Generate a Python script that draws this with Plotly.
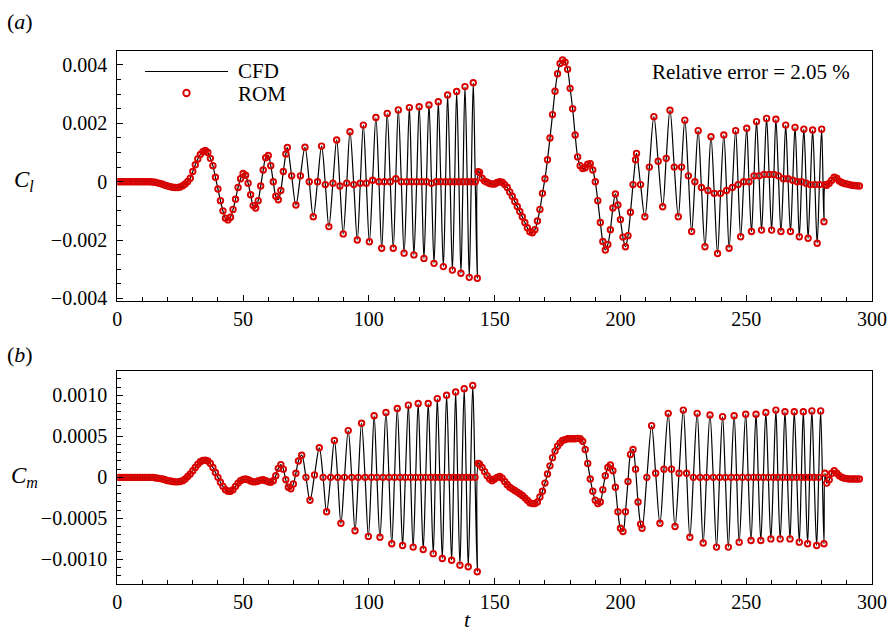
import plotly.graph_objects as go

# ---------------- data ----------------
# (a) lift coefficient C_l, values in units of 1e-3
t_cl_1 = [0, 1, 2, 3, 4, 5, 6, 7, 8, 9, 10, 11, 12, 13, 14, 15, 16, 17, 18, 19,
          20, 21, 22, 23, 24, 25, 26, 27, 28, 29, 30, 31, 32, 33, 34, 35, 36, 37, 38, 39,
          40, 41, 42, 43, 44, 45, 46, 47, 48, 49, 50, 51, 52, 53, 54, 55, 56, 57, 58, 59,
          60, 61, 62, 63, 64, 65, 66, 67]
cl_1 = [0, 0, 0, 0, 0, 0, 0, 0, 0, 0, 0, 0, 0, 0,
        -0.01, -0.02, -0.04, -0.06, -0.09, -0.12, -0.15, -0.17, -0.19, -0.2,
        -0.2, -0.18, -0.14, -0.08, 0.01, 0.12, 0.35, 0.58, 0.78, 0.93,
        1.03, 1.07, 1.0, 0.8, 0.55, 0.15, -0.25, -0.65, -1.0, -1.25,
        -1.31, -1.22, -0.95, -0.6, -0.2, 0.1, 0.28, 0.22, -0.05, -0.45,
        -0.82, -0.9, -0.65, -0.15, 0.4, 0.82, 0.9, 0.55, 0.0, -0.5,
        -0.62, -0.3, 0.35, 0.95]
t_cl_2 = [67.6, 69.3, 71.0, 72.8, 74.6, 76.3, 77.9, 79.6, 81.2, 82.7, 84.1, 85.7, 87.2, 88.5,
          89.8, 91.2, 92.5, 94.0, 95.4, 96.6, 97.8, 99.0, 100.2, 101.5, 102.8, 104.0, 105.1,
          106.2, 107.3, 108.5, 109.7, 110.7, 111.7, 112.9, 114.0, 115.1, 116.1, 117.0, 117.9,
          119.0, 120.0, 121.0, 121.9, 122.9, 123.9, 124.9, 125.9, 126.8, 127.6, 128.6, 129.6,
          130.5, 131.3, 132.3, 133.2, 134.1, 134.9, 135.8, 136.6, 137.4, 138.2, 139.1, 139.9,
          140.7, 141.5, 142.3, 143.1]
cl_2 = [1.17, 0.2, -0.8, 0.2, 1.18, 0.0, -1.2, 0.0, 1.22, -0.1, -1.54, -0.05, 1.43, -0.15,
        -1.79, -0.05, 1.71, -0.1, -2.0, -0.05, 1.94, -0.05, -2.06, 0.05, 2.2, 0.0, -2.28,
        0.0, 2.34, 0.0, -2.28, 0.1, 2.46, 0.0, -2.45, 0.0, 2.54, 0.0, -2.51,
        0.0, 2.57, 0.0, -2.63, 0.0, 2.63, -0.05, -2.8, 0.0, 2.74, 0.0, -2.91,
        0.0, 2.97, 0.0, -3.03, 0.0, 3.09, 0.0, -3.14, 0.0, 3.26, 0.0, -3.28,
        0.0, 3.39, 0.0, -3.31]
t_cl_3 = [143.5, 144, 145, 146, 147, 148, 149, 150, 151, 152, 153, 154, 155, 156, 157, 158,
          159, 160, 161, 162, 163, 164, 165, 166, 167, 168, 169, 170, 171, 172, 173, 174,
          175, 176, 177, 178, 179, 180, 181, 182, 183, 184, 185, 186, 187, 188, 189, 190,
          191, 192, 193, 194, 195, 196, 197, 198, 199, 200, 201, 202, 203, 204, 205, 206]
cl_3 = [0.34, 0.32, 0.12, 0.02, -0.02, -0.06, -0.08, -0.08, -0.03, 0.0, -0.02, -0.1, -0.2,
        -0.35, -0.5, -0.68, -0.85, -1.02, -1.2, -1.4, -1.58, -1.72, -1.75, -1.65, -1.35,
        -0.95, -0.4, 0.1, 0.75, 1.5, 2.3, 3.1, 3.7, 4.05, 4.17, 4.1, 3.85, 3.2, 2.5, 1.6,
        0.85, 0.55, 0.45, 0.48, 0.6, 0.62, 0.4, 0.0, -0.65, -1.4, -2.05, -2.34, -2.15,
        -1.65, -0.9, -0.42, -0.8, -1.3, -1.9, -2.23, -1.85, -1.05, -0.1, 0.75]
t_cl_4 = [206.4, 208.0, 209.7, 211.5, 213.3, 215.0, 216.8, 218.2, 219.7, 221.4, 223.0, 224.3,
          225.6, 227.0, 228.3, 229.6, 230.9, 232.2, 233.6, 234.8, 236.0, 237.3, 238.6, 239.8,
          241.1, 242.2, 243.2, 244.5, 245.8, 246.8, 247.8, 249.0, 250.2, 251.1, 252.1, 253.1,
          254.1, 255.1, 256.1, 257.1, 258.1, 259.1, 260.1, 261.0, 261.8, 262.8, 263.8, 264.8,
          265.7, 266.6, 267.6, 268.5, 269.4, 270.3, 271.1, 272.0, 272.9, 273.8, 274.6, 275.5,
          276.4, 277.3, 278.2, 279.1, 280.0, 280.9]
cl_4 = [0.97, -0.1, -1.2, 0.5, 2.23, 0.7, -0.86, 0.8, 2.45, 0.5, -1.2, 0.5,
        2.11, 0.2, -1.71, 0.0, 1.75, -0.2, -2.23, -0.3, 1.54, -0.4, -2.46, -0.4,
        1.6, -0.3, -2.28, -0.2, 1.75, -0.1, -1.89, 0.0, 1.83, 0.0, -1.71, 0.2,
        2.06, 0.2, -1.66, 0.25, 2.17, 0.25, -1.66, 0.25, 2.14, 0.2, -1.71, 0.1,
        1.94, 0.1, -1.71, 0.05, 1.86, 0.0, -1.89, 0.0, 1.8, -0.05, -1.94, -0.1,
        1.77, -0.1, -2.11, -0.1, 1.8, -1.37]
t_cl_5 = [281.4, 282, 283, 284, 285, 286, 287, 288, 289, 290, 291, 292, 293, 294, 295]
cl_5 = [-0.1, -0.12, -0.05, 0.05, 0.15, 0.12, 0.02, -0.03, -0.06, -0.08, -0.1, -0.12,
        -0.13, -0.14, -0.15]

# (b) moment coefficient C_m, values in units of 1e-3
t_cm_1 = list(range(0, 73))
cm_1 = [0, 0, 0, 0, 0, 0, 0, 0, 0, 0, 0, 0, 0, 0, 0,
        -0.005, -0.01, -0.015, -0.02, -0.03, -0.04, -0.045, -0.05, -0.055, -0.055,
        -0.05, -0.04, -0.02, 0.01, 0.04, 0.08, 0.12, 0.16, 0.19, 0.205,
        0.21, 0.2, 0.17, 0.12, 0.06, 0.0, -0.06, -0.11, -0.15, -0.17,
        -0.17, -0.15, -0.11, -0.07, -0.04, -0.025, -0.02, -0.03, -0.045, -0.055,
        -0.055, -0.045, -0.035, -0.03, -0.04, -0.055, -0.06, -0.04, 0.02, 0.11,
        0.155, 0.1, -0.03, -0.12, -0.14, -0.08, 0.05, 0.2]
t_cm_2 = [73.3, 75.0, 76.6, 78.4, 80.3, 81.8, 83.2, 84.8, 86.3, 87.6, 88.9, 90.3, 91.8,
          93.2, 94.5, 95.8, 97.1, 98.5, 99.8, 101.0, 102.1, 103.2, 104.4, 105.6, 106.8,
          108.0, 109.1, 110.2, 111.3, 112.4, 113.4, 114.5, 115.7, 116.6, 117.6, 118.6,
          119.6, 120.6, 121.6, 122.6, 123.6, 124.6, 125.6, 126.4, 127.2, 128.2, 129.2,
          130.0, 130.9, 131.9, 132.9, 133.7, 134.5, 135.3, 136.2, 137.0, 137.9, 138.7,
          139.5, 140.4, 141.3, 142.2, 143.1]
cm_2 = [0.27, 0.0, -0.28, 0.03, 0.36, 0.0, -0.42, 0.0, 0.45, 0.0, -0.56, 0.0, 0.57,
        0.0, -0.65, 0.0, 0.66, 0.0, -0.72, 0.0, 0.75, 0.0, -0.73, 0.0, 0.79,
        0.0, -0.81, 0.0, 0.84, 0.0, -0.83, 0.0, 0.88, 0.0, -0.85, 0.0,
        0.9, 0.0, -0.88, 0.0, 0.9, 0.0, -0.93, 0.0, 0.96, 0.0, -0.99,
        0.0, 1.0, 0.0, -1.01, 0.0, 1.04, 0.0, -1.07, 0.0, 1.08, 0.0,
        -1.09, 0.0, 1.12, 0.0, -1.15]
t_cm_3 = [143.5] + list(range(144, 209))
cm_3 = [0.17, 0.16, 0.12, 0.07, 0.02, -0.02, -0.04, -0.02, 0.0, 0.01, -0.01,
        -0.05, -0.09, -0.12, -0.14, -0.16, -0.18, -0.2, -0.22, -0.25, -0.28,
        -0.31, -0.32, -0.32, -0.3, -0.24, -0.17, -0.07, 0.04, 0.14, 0.24,
        0.32, 0.38, 0.42, 0.45, 0.46, 0.47, 0.47, 0.47, 0.47, 0.475,
        0.47, 0.44, 0.34, 0.17, -0.02, -0.17, -0.28, -0.32, -0.3, -0.15,
        0.02, 0.12, 0.15, 0.08, -0.12, -0.42, -0.62, -0.66, -0.42, -0.05,
        0.28, 0.34, 0.1, -0.3, -0.57]
t_cm_4 = [208.6, 210.5, 212.4, 214.0, 215.7, 217.3, 219.0, 220.3, 221.7, 223.3, 225.0,
          226.3, 227.6, 229.0, 230.5, 231.7, 232.9, 234.2, 235.6, 236.9, 238.2, 239.4,
          240.6, 241.7, 242.9, 244.0, 245.2, 246.2, 247.2, 248.5, 249.8, 250.8, 251.9,
          252.9, 253.9, 254.8, 255.8, 256.8, 257.8, 258.8, 259.8, 260.8, 261.8, 262.6,
          263.5, 264.5, 265.4, 266.4, 267.4, 268.2, 269.1, 270.1, 271.1, 271.9, 272.7,
          273.5, 274.4, 275.2, 276.1, 277.0, 278.0, 278.8, 279.6, 280.9]
cm_4 = [-0.62, 0.0, 0.63, 0.05, -0.56, 0.1, 0.78, 0.1, -0.6, 0.05, 0.82,
        0.05, -0.73, 0.0, 0.78, 0.0, -0.8, 0.0, 0.76, 0.0, -0.85, 0.0,
        0.74, 0.0, -0.85, 0.0, 0.75, 0.0, -0.79, 0.0, 0.77, 0.0, -0.77,
        0.0, 0.77, 0.0, -0.77, 0.0, 0.79, 0.0, -0.75, 0.0, 0.82, 0.0,
        -0.75, 0.0, 0.8, 0.0, -0.75, 0.0, 0.8, 0.0, -0.79, 0.0, 0.8,
        0.0, -0.81, 0.0, 0.81, 0.0, -0.83, 0.0, 0.81, -0.81]
t_cm_5 = [281.3, 282, 283, 284, 285, 286, 287, 288, 289, 290, 291, 292, 293, 294, 295]
cm_5 = [0.05, -0.07, -0.03, 0.05, 0.08, 0.05, 0.02, 0.0, -0.01, -0.015, -0.02, -0.02,
        -0.02, -0.02, -0.02]

x_ticks = [0, 50, 100, 150, 200, 250, 300]
cl_ticks = [-0.004, -0.002, 0, 0.002, 0.004]
cl_ticklabels = ["\u22120.004", "\u22120.002", "0", "0.002", "0.004"]
cm_ticks = [-0.001, -0.0005, 0, 0.0005, 0.001]
cm_ticklabels = ["\u22120.0010", "\u22120.0005", "0", "0.0005", "0.0010"]
error_text = "Relative error = 2.05 %"

# ---------------- assemble ----------------
for a, b in [(t_cl_1, cl_1), (t_cl_2, cl_2), (t_cl_3, cl_3), (t_cl_4, cl_4), (t_cl_5, cl_5),
             (t_cm_1, cm_1), (t_cm_2, cm_2), (t_cm_3, cm_3), (t_cm_4, cm_4), (t_cm_5, cm_5)]:
    assert len(a) == len(b), (len(a), len(b), a[0])

t_cl = t_cl_1 + t_cl_2 + t_cl_3 + t_cl_4 + t_cl_5
cl = [v * 1e-3 for v in cl_1 + cl_2 + cl_3 + cl_4 + cl_5]
t_cm = t_cm_1 + t_cm_2 + t_cm_3 + t_cm_4 + t_cm_5
cm = [v * 1e-3 for v in cm_1 + cm_2 + cm_3 + cm_4 + cm_5]

W, H = 893, 632
RED = "#d90000"
FONT = "Liberation Serif"


def px(x):
    return x / W


def py(y):
    return 1 - y / H


fig = go.Figure()
for xa, ya, tt, vv in [("x", "y", t_cl, cl), ("x2", "y2", t_cm, cm)]:
    fig.add_trace(go.Scatter(x=tt, y=vv, mode="lines", xaxis=xa, yaxis=ya,
                             line=dict(color="black", width=1.2, shape="spline", smoothing=1.0),
                             showlegend=False, hoverinfo="skip"))
    fig.add_trace(go.Scatter(x=tt, y=vv, mode="markers", xaxis=xa, yaxis=ya,
                             marker=dict(symbol="circle-open", size=5.5, color=RED,
                                         line=dict(color=RED, width=1.9)),
                             showlegend=False, hoverinfo="skip"))

axis_common = dict(showline=True, mirror=True, linecolor="black", linewidth=1.3,
                   ticks="inside", ticklen=6, tickwidth=1.1, tickcolor="black",
                   showgrid=False, zeroline=False, automargin=False,
                   tickfont=dict(family=FONT, size=20, color="black"))

xdom = [px(117.3), px(872)]
xmin = dict(ticks="inside", ticklen=3.5, tickmode="linear", tick0=0, dtick=10,
            tickcolor="black")
fig.update_layout(
    width=W, height=H, margin=dict(l=0, r=0, t=0, b=0),
    paper_bgcolor="white", plot_bgcolor="white",
    font=dict(family=FONT, color="black", size=20),
    xaxis=dict(domain=xdom, anchor="y", range=[0, 300], tickmode="array", tickvals=x_ticks,
               ticklabeloverflow="allow", minor=xmin, **axis_common),
    yaxis=dict(domain=[py(301), py(50.7)], anchor="x", range=[-0.00409, 0.00449],
               tickmode="array", tickvals=cl_ticks, ticktext=cl_ticklabels,
               ticklabelstandoff=5, ticklabeloverflow="allow",
               minor=dict(ticks="inside", ticklen=3.5, tickmode="linear", tick0=0,
                          dtick=0.0005, tickcolor="black"),
               **axis_common),
    xaxis2=dict(domain=xdom, anchor="y2", range=[0, 300], tickmode="array", tickvals=x_ticks,
                ticklabeloverflow="allow", minor=xmin, **axis_common),
    yaxis2=dict(domain=[py(584), py(370.7)], anchor="x2", range=[-0.0013, 0.0013],
                tickmode="array", tickvals=cm_ticks, ticktext=cm_ticklabels,
                ticklabelstandoff=5, ticklabeloverflow="allow",
                minor=dict(ticks="inside", ticklen=3.5, tickmode="linear", tick0=0,
                           dtick=0.0001, tickcolor="black"),
                **axis_common),
)

ann = []


def text(x, y, s, size, xanchor="left"):
    ann.append(dict(x=px(x), y=py(y), xref="paper", yref="paper", text=s, showarrow=False,
                    xanchor=xanchor, yanchor="middle",
                    font=dict(family=FONT, size=size, color="black")))


text(5, 22, "(<i>a</i>)", 22)
text(5, 354, "(<i>b</i>)", 22)
text(24, 181, "<i>C<sub>l</sub></i>", 23, "center")
text(24, 477, "<i>C<sub>m</sub></i>", 23, "center")
text(467, 619, "<i>t</i>", 22, "center")
text(236, 71, "CFD", 21)
text(236, 94, "ROM", 21)
text(650, 72, error_text, 21)
fig.update_layout(annotations=ann)

fig.add_shape(type="line", xref="paper", yref="paper", x0=px(145), x1=px(228),
              y0=py(71.5), y1=py(71.5), line=dict(color="black", width=1.2))
fig.add_shape(type="circle", xref="paper", yref="paper", x0=px(183.3), x1=px(189.7),
              y0=py(96.2), y1=py(89.8), line=dict(color=RED, width=1.9), fillcolor="white")

fig.write_html("out.html", config={"displayModeBar": False},
               post_script="document.body.style.margin='0';"
                           "document.body.style.overflow='hidden';")
